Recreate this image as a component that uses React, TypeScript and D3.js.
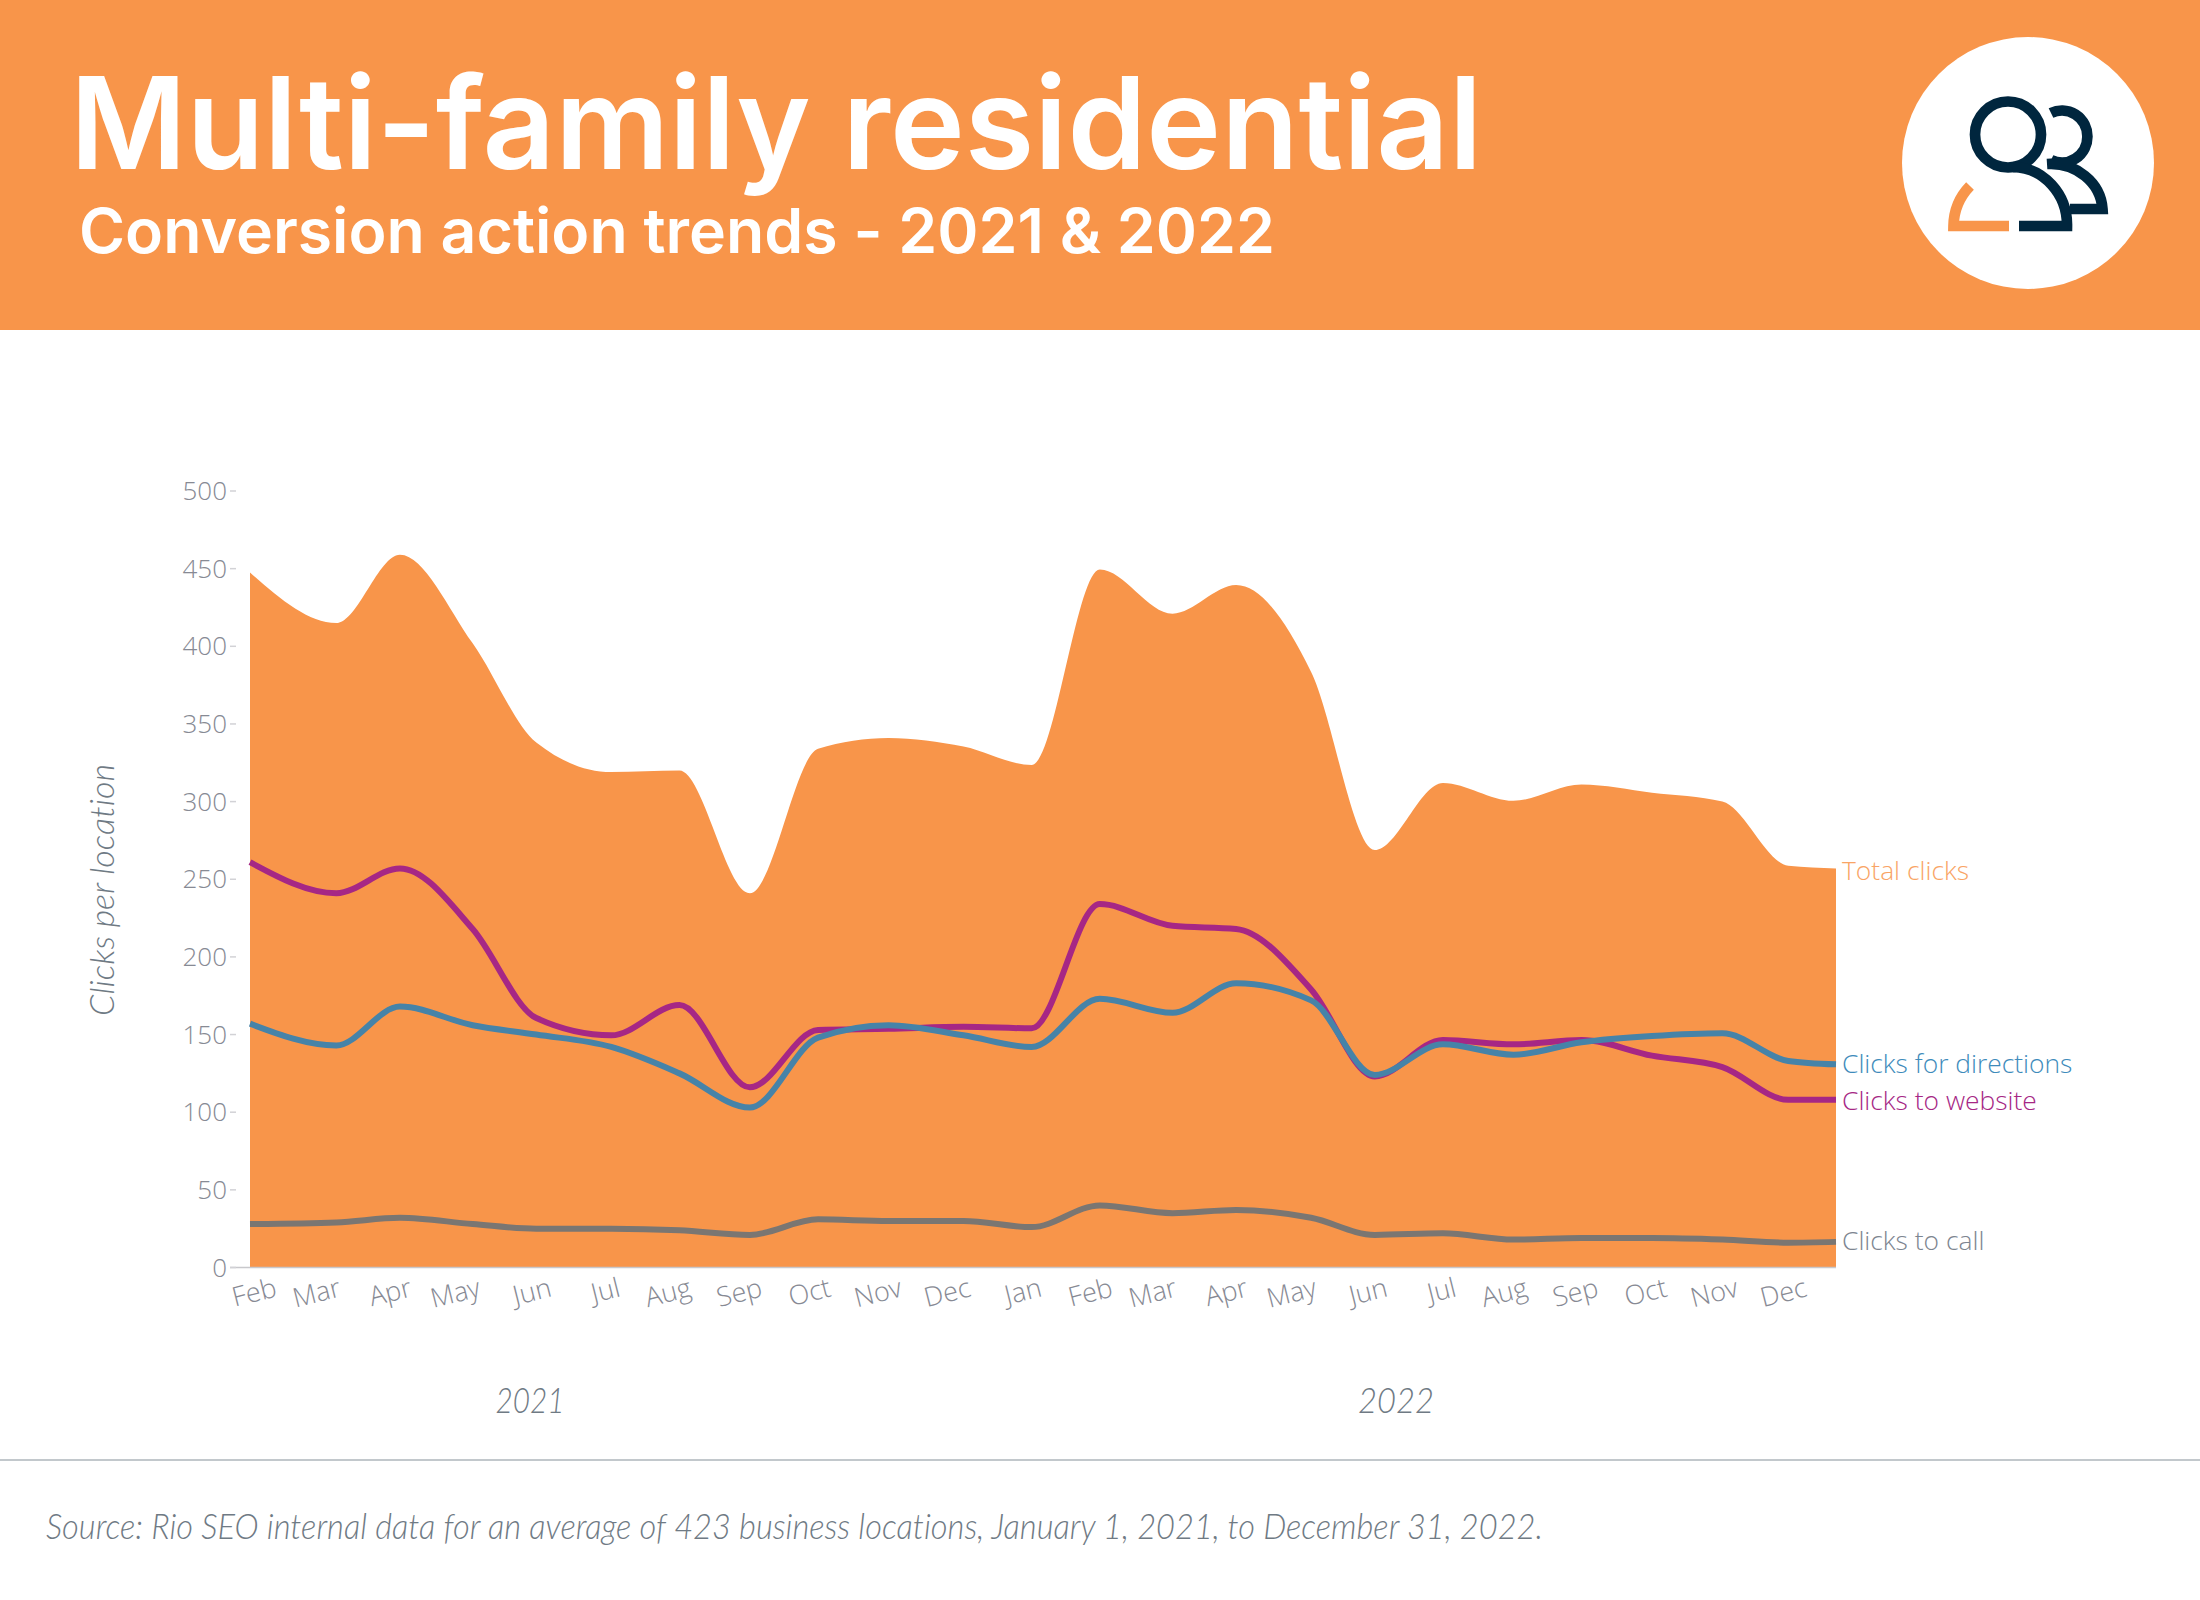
import React from "react";
import * as d3 from "d3";

const pointDates = [
  "2021-02-01","2021-03-11","2021-04-08","2021-05-10","2021-06-07","2021-07-10","2021-08-09","2021-09-09","2021-10-09","2021-11-09","2021-12-12",
  "2022-01-11","2022-02-10","2022-03-14","2022-04-11","2022-05-14","2022-06-11","2022-07-11","2022-08-11","2022-09-10","2022-10-11","2022-11-11","2022-12-10","2022-12-31",
];
const totalClicks = [447.5,415,459,402,338,319,320,241,334,341,335.5,323.6,449.5,421,439.4,383.5,268.8,312,300.5,311,305.7,300,258.7,257];
const clicksToWebsite = [261,241,257,218,160.6,149.5,169,116,153,153.7,155,154,234,220,218,179,123,146.5,143.7,146.5,136.4,129,108,108];
const clicksForDirections = [157,143,168,156,150,142,125,103,148,156,149.5,142,173,164,183,172,124,143.7,137,145,149,150.8,133,130.8];
const clicksToCall = [28,29,32,28,25,25,24,21,31,30,30,26,40,35,37,32,21,22,18,19,19,18,16,16.5];
const yTicks = [0,50,100,150,200,250,300,350,400,450,500];
const monthTickDates = [
  "2021-02-01","2021-03-01","2021-04-01","2021-05-01","2021-06-01","2021-07-01","2021-08-01","2021-09-01","2021-10-01","2021-11-01","2021-12-01",
  "2022-01-01","2022-02-01","2022-03-01","2022-04-01","2022-05-01","2022-06-01","2022-07-01","2022-08-01","2022-09-01","2022-10-01","2022-11-01","2022-12-01",
];
const monthNames = ["Jan","Feb","Mar","Apr","May","Jun","Jul","Aug","Sep","Oct","Nov","Dec"];

const ORANGE = "#F8954A";
const NAVY = "#00263E";
const AXIS_TEXT = "#878A94";
const OPEN = "'Open Sans', sans-serif";
const LATO = "Lato, sans-serif";
const HEAD = "Inter, sans-serif";

const parse = d3.utcParse("%Y-%m-%d");
const dates = pointDates.map((d) => parse(d) as Date);
const x = d3.scaleUtc().domain([dates[0], dates[dates.length - 1]]).range([250, 1836]);
const xTick = d3.scaleUtc().domain([dates[0], dates[dates.length - 1]]).range([253, 1852]);
const y = d3.scaleLinear().domain([0, 500]).range([1267.5, 491]);
const curve = d3.curveMonotoneX;

const area = d3.area<number>().x((_, i) => x(dates[i])).y0(y(0)).y1((v) => y(v)).curve(curve);
const line = d3.line<number>().x((_, i) => x(dates[i])).y((v) => y(v)).curve(curve);

const lines = [
  { values: clicksToCall, color: "#7A7672" },
  { values: clicksToWebsite, color: "#A62785" },
  { values: clicksForDirections, color: "#4683A8" },
];

const endLabels = [
  { text: "Total clicks", color: "#F9A465", y: 880 },
  { text: "Clicks for directions", color: "#3E8BBB", y: 1073 },
  { text: "Clicks to website", color: "#A62785", y: 1110 },
  { text: "Clicks to call", color: "#7D8590", y: 1250 },
];

const yearLabels = [
  { text: "2021", x: 530, width: 69 },
  { text: "2022", x: 1396, width: 76 },
];

export default function App() {
  return (
    <svg width={2200} height={1600} viewBox="0 0 2200 1600" style={{ position: "absolute", left: 0, top: 0, background: "#fff", fontVariantLigatures: "none" }}>
      <rect x={0} y={0} width={2200} height={330} fill={ORANGE} />
      <text x={70} y={169} fontFamily={HEAD} fontWeight={600} fontSize={128} fill="#fff" textLength={1412} lengthAdjust="spacingAndGlyphs">Multi-family residential</text>
      <text x={79} y={253} fontFamily={HEAD} fontWeight={600} fontSize={62} fill="#fff" textLength={1196} lengthAdjust="spacingAndGlyphs">Conversion action trends - 2021 &amp; 2022</text>

      <circle cx={2028} cy={163} r={126} fill="#fff" />
      <g fill="none" strokeWidth={10.7}>
        <circle cx={2008} cy={134.5} r={33} stroke={NAVY} />
        <path d="M2013 167 A55 58 0 0 1 2067 226 L2019 226" stroke={NAVY} />
        <path d="M2051 113 A25.5 26 0 1 1 2051 160 M2047 164 A52 48 0 0 1 2102.5 209 L2070 209" stroke={NAVY} />
        <path d="M2009 226 L1953.5 226 A56 58 0 0 1 1970 186" stroke={ORANGE} />
      </g>

      <path d={area(totalClicks) ?? ""} fill={ORANGE} />
      {lines.map((s) => (
        <path key={s.color} d={line(s.values) ?? ""} fill="none" stroke={s.color} strokeWidth={6} />
      ))}

      <line x1={230} x2={1836} y1={y(0)} y2={y(0)} stroke="#C8C8CC" strokeWidth={1.5} />
      {yTicks.map((t) => (
        <g key={t}>
          <line x1={230} x2={236} y1={y(t)} y2={y(t)} stroke="#D2D2D6" strokeWidth={1.5} />
          <text x={227} y={y(t) + 9} textAnchor="end" fontFamily={OPEN} fontWeight={300} fontSize={26} fill={AXIS_TEXT}>{t}</text>
        </g>
      ))}
      {monthTickDates.map((d) => {
        const date = parse(d) as Date;
        const px = xTick(date) + 25;
        return (
          <text key={d} transform={`translate(${px},1296) rotate(-14)`} textAnchor="end" fontFamily={OPEN} fontWeight={300} fontSize={27} fill={AXIS_TEXT}>
            {monthNames[date.getUTCMonth()]}
          </text>
        );
      })}

      <text transform="translate(114,890) rotate(-90)" textAnchor="middle" fontFamily={LATO} fontWeight={300} fontStyle="italic" fontSize={33} fill="#6F7A84" textLength={252} lengthAdjust="spacingAndGlyphs">Clicks per location</text>

      {endLabels.map((l) => (
        <text key={l.text} x={1842} y={l.y} fontFamily={OPEN} fontWeight={300} fontSize={26.4} fill={l.color}>{l.text}</text>
      ))}
      {yearLabels.map((l) => (
        <text key={l.text} x={l.x} y={1413} textAnchor="middle" fontFamily={LATO} fontWeight={300} fontStyle="italic" fontSize={35} fill="#6F7A84" textLength={l.width} lengthAdjust="spacingAndGlyphs">{l.text}</text>
      ))}

      <line x1={0} x2={2200} y1={1460} y2={1460} stroke="#C2C8CC" strokeWidth={2} />
      <text x={46} y={1539} fontFamily={LATO} fontWeight={300} fontStyle="italic" fontSize={35} fill="#6F7A84" textLength={1497} lengthAdjust="spacingAndGlyphs">Source: Rio SEO internal data for an average of 423 business locations, January 1, 2021, to December 31, 2022.</text>
    </svg>
  );
}
